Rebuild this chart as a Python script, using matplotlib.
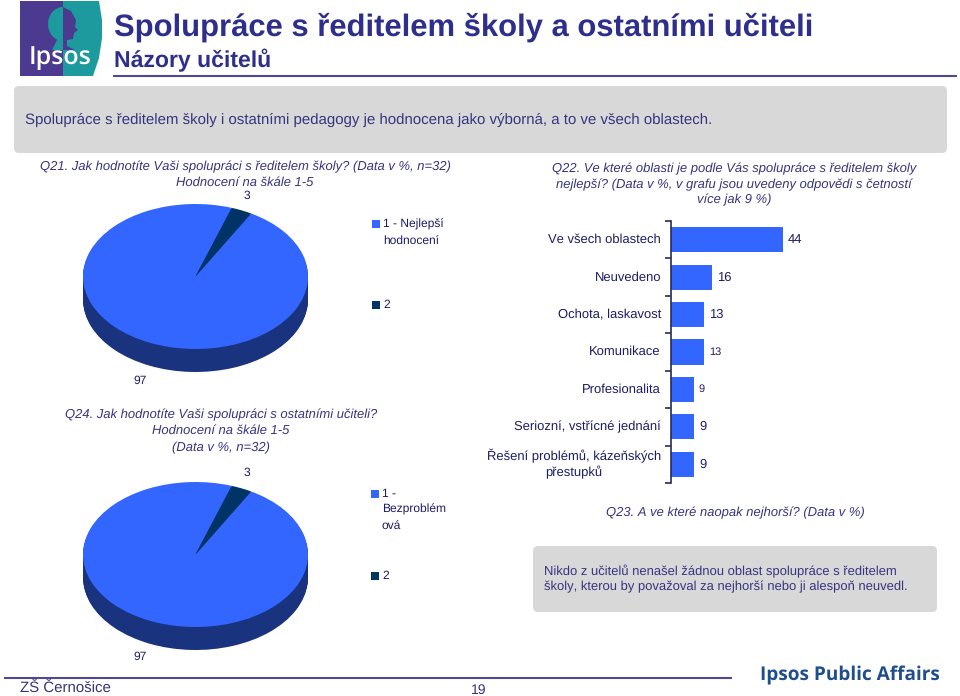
import matplotlib
matplotlib.use("Agg")
import matplotlib.pyplot as plt
from matplotlib.patches import FancyBboxPatch, Polygon, Ellipse, Rectangle

plt.rcParams['font.family'] = ['Liberation Sans', 'DejaVu Sans']
plt.rcParams['text.hinting'] = 'no_hinting'
plt.rcParams['text.hinting_factor'] = 1

W, H = 960, 696

# data
pie_values = [97, 3]
pie_labels = ['97', '3']
bar_categories = ['Ve všech oblastech', 'Neuvedeno', 'Ochota, laskavost', 'Komunikace',
                  'Profesionalita', 'Seriozní, vstřícné jednání',
                  'Řešení problémů, kázeňských\npřestupků']
bar_values = [44, 16, 13, 13, 9, 9, 9]
bar_label_sizes = [9, 9, 9, 7.8, 7.8, 9, 9]

BLUE = '#3366ff'
DARK = '#003366'
SIDE = '#1a337f'
TITLE = '#2e2e8c'
NAVY = '#1c1c66'
QUEST = '#37347f'
LINE = '#4f4a8c'
GREY = '#d8d8d8'
Q_SIZE = 9.52

fig = plt.figure(figsize=(W / 100, H / 100), dpi=100, facecolor='white')


def px_axes(x0, y0, x1, y1):
    # osy zadane v pixelech obrazku (y shora dolu)
    return fig.add_axes([x0 / W, 1 - y1 / H, (x1 - x0) / W, (y1 - y0) / H])


bg = px_axes(0, 0, W, H)
bg.set_xlim(0, W)
bg.set_ylim(H, 0)
bg.axis('off')


def txt(x, y, s, size, color=NAVY, ha='left', **kw):
    bg.text(x, y, s, fontsize=size, color=color, ha=ha, va='center', **kw)


def question(x, y, s):
    txt(x, y, s, Q_SIZE, color=QUEST, ha='center', style='italic')


# logo
bg.add_patch(Polygon([(20, 1), (63, 1), (63, 76), (20, 76)], fc='#4b3a8f', ec='none'))
bg.add_patch(Polygon([(63, 1), (99, 1), (102, 20), (102, 38), (99, 58), (93, 76), (63, 76)],
                     fc='#1c9a9e', ec='none'))
bg.add_patch(Ellipse((63, 24), 30, 34, fc='#1c9a9e', ec='none'))
bg.add_patch(Polygon([(63, 7), (71, 11), (76, 20), (75, 27), (78, 30), (74, 33), (73, 39),
                      (67, 40), (67, 46), (75, 50), (63, 50)], fc='#4b3a8f', ec='none'))
bg.add_patch(Polygon([(58, 38), (63, 38), (63, 50), (52, 50)], fc='#1c9a9e', ec='none'))
txt(29, 57, 'Ipsos', 18, color='white', fontweight='semibold', fontfamily=['Open Sans', 'DejaVu Sans'])

# hlavicka
txt(114, 27, 'Spolupráce s ředitelem školy a ostatními učiteli', 22.58, color=TITLE, fontweight='bold')
txt(114, 60, 'Názory učitelů', 16.7, color=TITLE, fontweight='bold')
bg.plot([114, 956], [76, 76], color=LINE, lw=1.5)

# sede boxy
for x0, y0, x1, y1 in [(14, 86, 947, 153), (533, 546, 937, 612)]:
    bg.add_patch(FancyBboxPatch((x0 + 5, y0 + 5), x1 - x0 - 10, y1 - y0 - 10,
                                boxstyle='round,pad=5,rounding_size=5', fc=GREY, ec='none'))
txt(25, 120, 'Spolupráce s ředitelem školy i ostatními pedagogy je hodnocena jako výborná, a to ve všech oblastech.',
    11.15, color=QUEST)
txt(544, 571, 'Nikdo z učitelů nenašel žádnou oblast spolupráce s ředitelem', 9.5, color=QUEST)
txt(544, 587, 'školy, kterou by považoval za nejhorší nebo ji alespoň neuvedl.', 9.5, color=QUEST)

# otazky
question(245, 167, 'Q21. Jak hodnotíte Vaši spolupráci s ředitelem školy? (Data v %, n=32)')
question(245, 183, 'Hodnocení na škále 1-5')
question(734, 169, 'Q22. Ve které oblasti je podle Vás spolupráce s ředitelem školy')
question(734, 185, 'nejlepší? (Data v %, v grafu jsou uvedeny odpovědi s četností')
question(734, 200, 'více jak 9 %)')
question(221, 415, 'Q24. Jak hodnotíte Vaši spolupráci s ostatními učiteli?')
question(221, 431, 'Hodnocení na škále 1-5')
question(221, 448, '(Data v %, n=32)')
question(735, 513, 'Q23. A ve které naopak nejhorší? (Data v %)')


def draw_pie(x0, x1, top, bottom, depth):
    ry = (bottom - top) / 2
    ax = px_axes(x0, top, x1, bottom + depth)
    ax.patch.set_alpha(0)
    d = depth / ry
    # bocni stena: vrstvy stejneho kolace pod sebou
    for k in range(int(depth), 0, -1):
        ax.pie(pie_values, colors=[SIDE, SIDE], startangle=90 - 29.6, counterclock=False,
               radius=1, center=(0, -d * k / depth))
    ax.pie(pie_values, colors=[BLUE, DARK], startangle=90 - 29.6, counterclock=False, radius=1)
    ax.set_aspect('auto')
    ax.set_xlim(-1, 1)
    ax.set_ylim(-1 - d, 1)
    ax.axis('off')


draw_pie(83, 308, 204, 349, 23)
draw_pie(83, 308, 482, 627, 23)

# popisky kolacu
txt(247, 196, pie_labels[1], 8.6, ha='center')
txt(140, 381, pie_labels[0], 8.6, ha='center')
txt(247, 473, pie_labels[1], 8.6, ha='center')
txt(140, 657, pie_labels[0], 8.6, ha='center')

# legendy
for x, y, c, size in [(372, 220, BLUE, 8), (372, 301, DARK, 8), (371, 490, BLUE, 8), (371, 572, DARK, 8)]:
    bg.add_patch(Rectangle((x, y), size, size, fc=c, ec='none'))
txt(383, 224, '1 - Nejlepší', 8.9)
txt(383, 241, 'hodnocení', 8.9)
txt(383, 305, '2', 8.9)
txt(382, 494, '1 -', 8.9)
txt(382, 509, 'Bezproblém', 8.9)
txt(382, 526, 'ová', 8.9)
txt(382, 576, '2', 8.9)

# sloupcovy graf
ax = px_axes(671, 221, 926, 483)
ax.patch.set_alpha(0)
pos = list(range(len(bar_values)))
bars = ax.barh(pos, bar_values, height=0.67, color=BLUE)
ax.set_xlim(0, 100)
ax.set_ylim(len(bar_values) - 0.5, -0.5)
for s in ['top', 'right', 'bottom']:
    ax.spines[s].set_visible(False)
ax.spines['left'].set_color('#2a2a55')
ax.spines['left'].set_linewidth(1.2)
ax.set_xticks([])
ax.set_yticks([p - 0.5 for p in pos] + [len(pos) - 0.5])
ax.set_yticklabels([])
ax.tick_params(axis='y', length=4, width=1.2, color='#2a2a55')
for p, cat, v, size in zip(pos, bar_categories, bar_values, bar_label_sizes):
    ax.annotate(cat, xy=(0, p), xytext=(-10, 0), textcoords='offset pixels', ha='right', va='center',
                fontsize=9.08, color=NAVY, multialignment='center', linespacing=1.25)
    ax.annotate(str(v), xy=(v, p), xytext=(5, 0), textcoords='offset pixels', ha='left', va='center',
                fontsize=size, color=NAVY)

# paticka
bg.plot([5, 731], [678, 678], color=LINE, lw=1.5)
txt(20, 688, 'ZŠ Černošice', 10.5, color=QUEST)
txt(479, 690, '19', 10, color=QUEST, ha='center')
txt(760, 675, 'Ipsos Public Affairs', 13.4, color='#1f4e8c', fontweight='bold',
    fontfamily=['Open Sans', 'DejaVu Sans'])

fig.savefig('out.png', dpi=100)
